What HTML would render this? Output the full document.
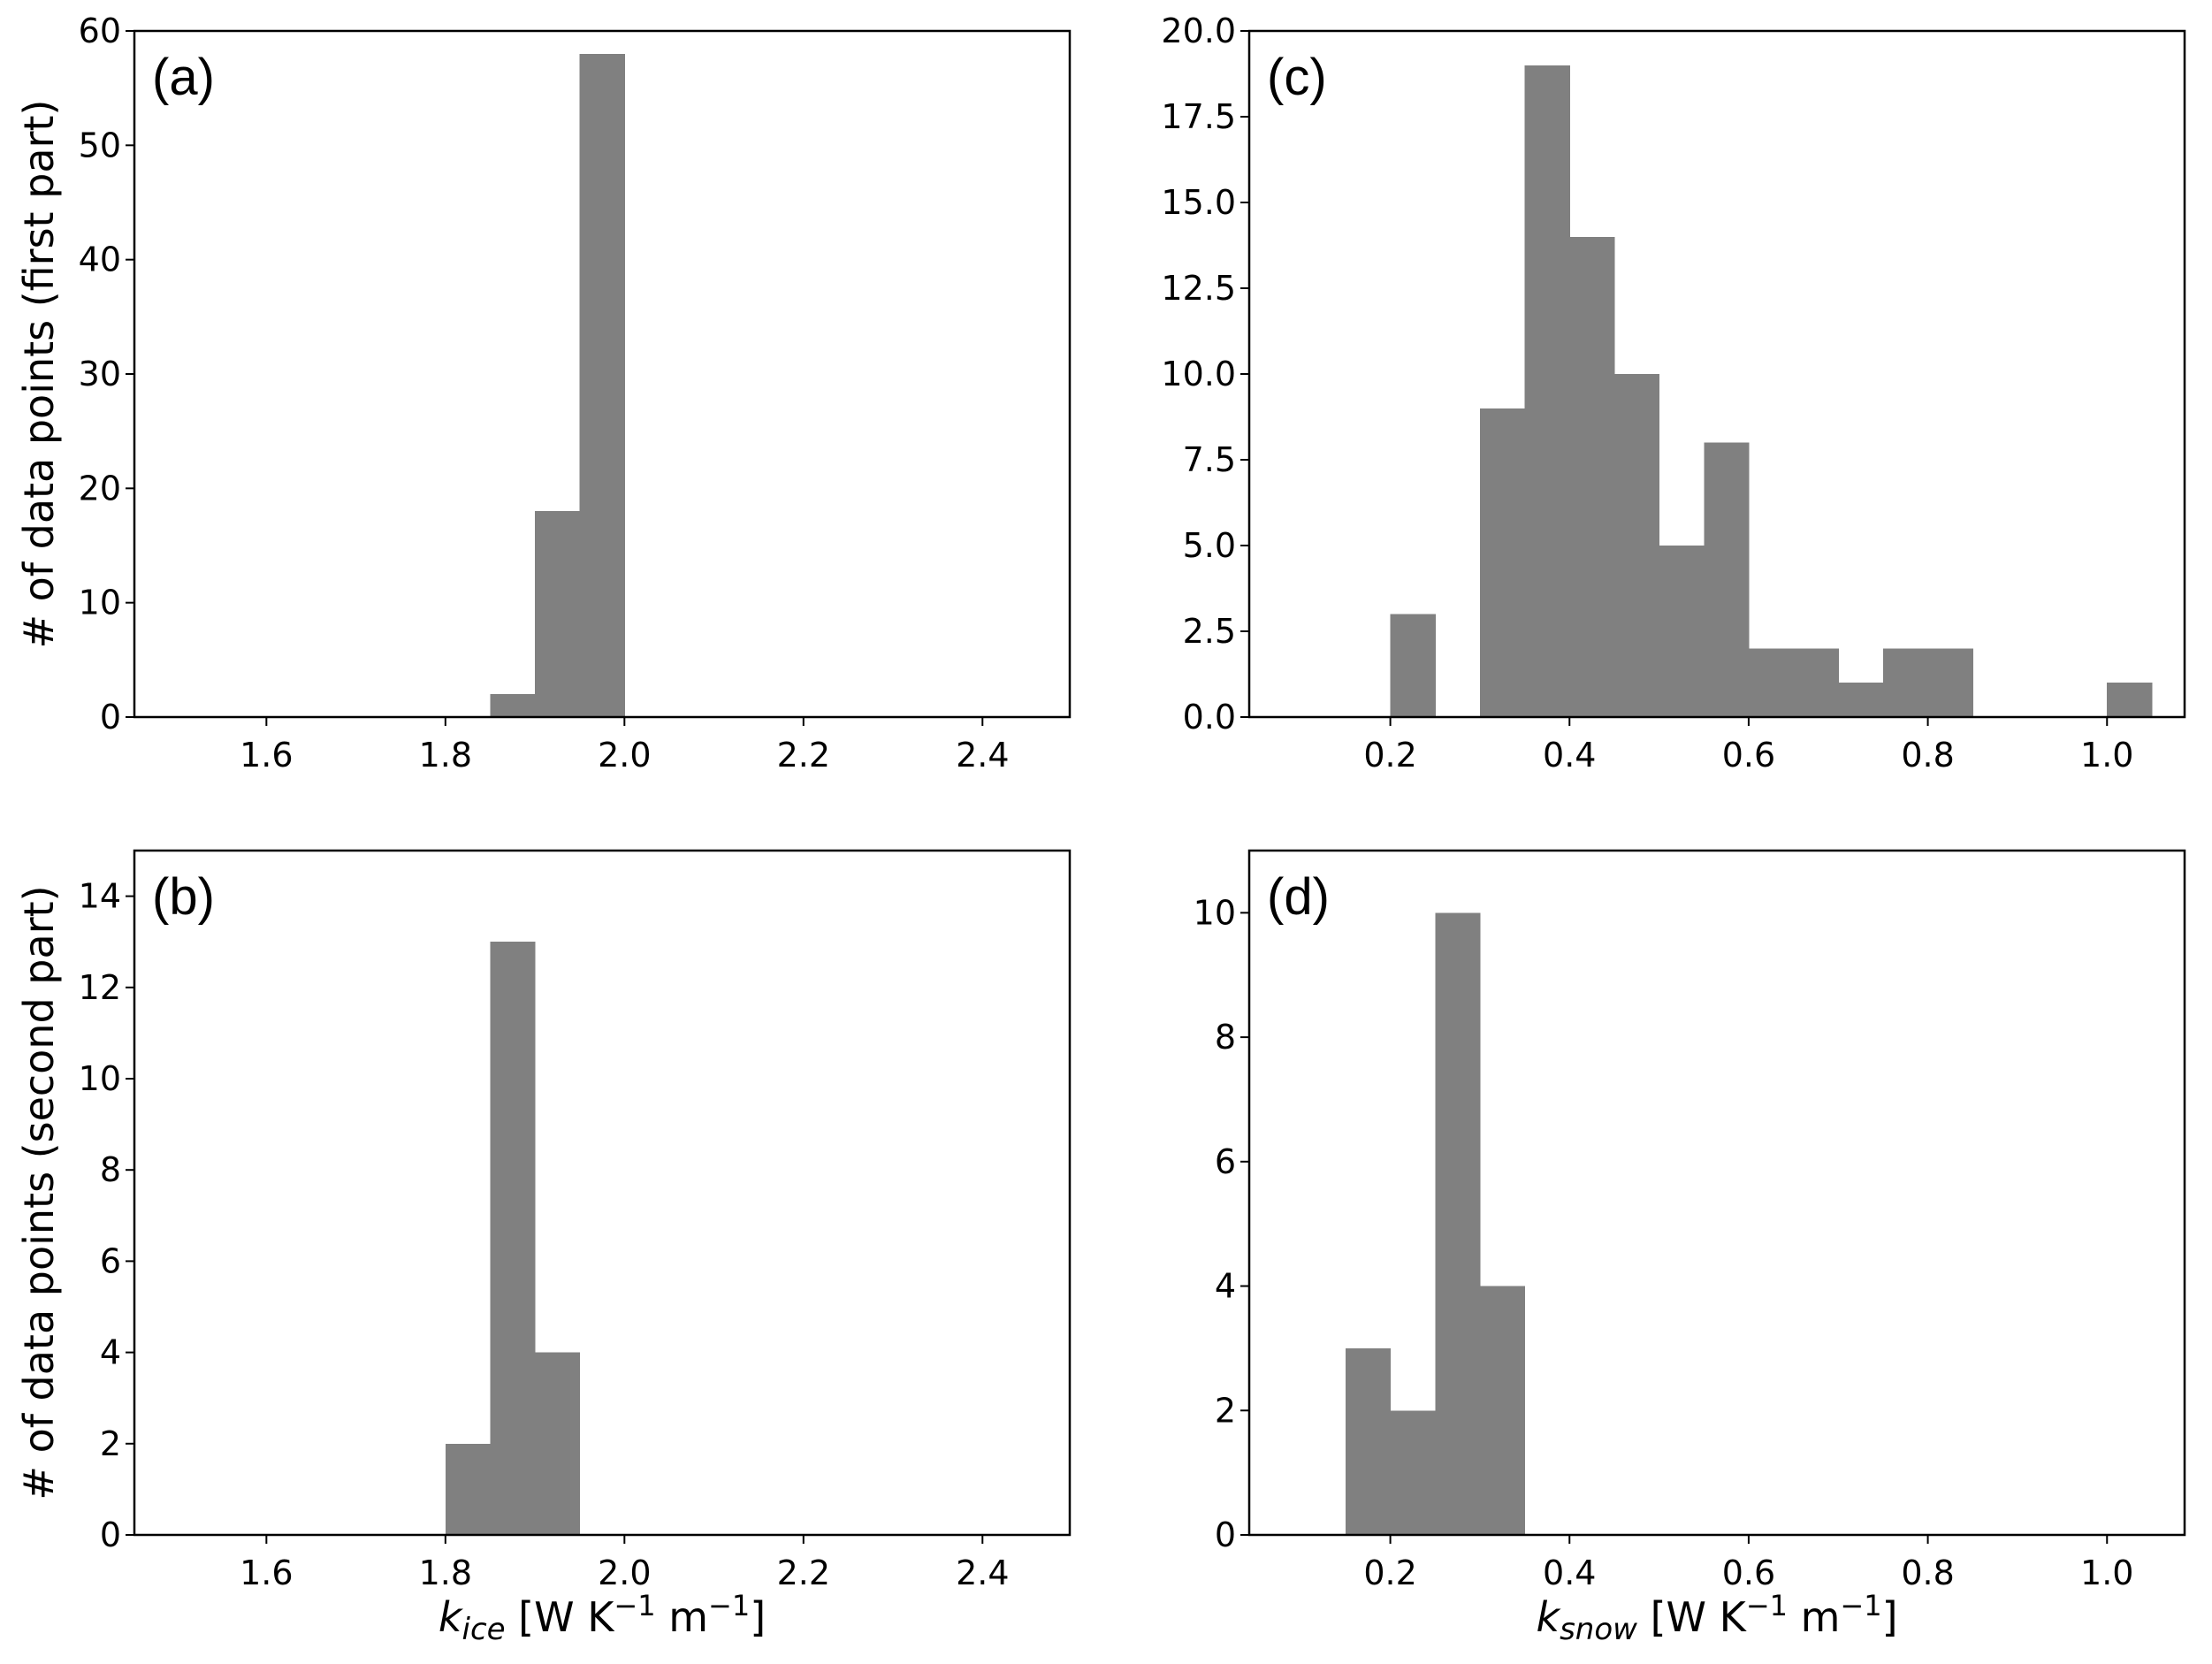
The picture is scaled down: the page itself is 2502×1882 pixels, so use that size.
<!DOCTYPE html>
<html><head><meta charset="utf-8"><style>
html,body{margin:0;padding:0;background:#fff}
svg{display:block;font-family:"DejaVu Sans","Liberation Sans",sans-serif}
</style></head><body>
<svg id="fig" width="2502" height="1882" viewBox="0 0 2502 1882" xmlns="http://www.w3.org/2000/svg"></svg>
<script>
// Panel (a)
const aBinStarts = [1.85, 1.90, 1.95];
const aCounts = [2, 18, 58];
const aYTicks = [0, 10, 20, 30, 40, 50, 60];
// Panel (b)
const bBinStarts = [1.80, 1.85, 1.90];
const bCounts = [2, 13, 4];
const bYTicks = [0, 2, 4, 6, 8, 10, 12, 14];
// Panel (c)
const cBinStarts = [0.20, 0.30, 0.35, 0.40, 0.45, 0.50, 0.55, 0.60, 0.65, 0.70, 0.75, 0.80, 1.00];
const cCounts = [3, 9, 19, 14, 10, 5, 8, 2, 2, 1, 2, 2, 1];
const cYTicks = ["0.0", "2.5", "5.0", "7.5", "10.0", "12.5", "15.0", "17.5", "20.0"];
// Panel (d)
const dBinStarts = [0.15, 0.20, 0.25, 0.30];
const dCounts = [3, 2, 10, 4];
const dYTicks = [0, 2, 4, 6, 8, 10];
// x ticks
const iceXTicks = ["1.6", "1.8", "2.0", "2.2", "2.4"];
const snowXTicks = ["0.2", "0.4", "0.6", "0.8", "1.0"];
const binWidth = 0.05;

const NS = "http://www.w3.org/2000/svg";
const svg = document.getElementById("fig");
function mk(tag, attrs, parent) {
  const e = document.createElementNS(NS, tag);
  for (const k in attrs) e.setAttribute(k, attrs[k]);
  (parent || svg).appendChild(e);
  return e;
}

function panel(cfg) {
  const g = mk("g", {});
  
  
  const X = v => cfg.x0 + (v - cfg.xmin) / (cfg.xmax - cfg.xmin) * (cfg.x1 - cfg.x0);
  const Y = v => cfg.y1 - (v - 0) / cfg.ymax * (cfg.y1 - cfg.y0);
  cfg.starts.forEach((s, i) => {
    const r = mk("rect", {x: X(s), y: Y(cfg.counts[i]), width: X(s + binWidth) - X(s) + 0.5, height: Y(0) - Y(cfg.counts[i]), fill: "#808080", "shape-rendering": "crispEdges"}, g);
    
    
  });
  const fr = mk("rect", {x: cfg.x0, y: cfg.y0, width: cfg.x1 - cfg.x0, height: cfg.y1 - cfg.y0, fill: "none", stroke: "#000", "stroke-width": 2.5}, g);
  
  
  cfg.yticks.forEach(t => {
    const y = Y(parseFloat(t));
    mk("line", {x1: cfg.x0 - 10, x2: cfg.x0, y1: y, y2: y, stroke: "#000", "stroke-width": 2}, g);
    const tx = mk("text", {x: cfg.x0 - 15, y: y + 13, "text-anchor": "end", "font-size": 38}, g);
    tx.textContent = t;
    
    
  });
  cfg.xticks.forEach(t => {
    const x = X(parseFloat(t));
    mk("line", {x1: x, x2: x, y1: cfg.y1, y2: cfg.y1 + 10, stroke: "#000", "stroke-width": 2}, g);
    const tx = mk("text", {x: x, y: cfg.y1 + 56, "text-anchor": "middle", "font-size": 38}, g);
    tx.textContent = t;
    
    
  });
  const lb = mk("text", {x: cfg.x0 + 20, y: cfg.y0 + 72, "font-size": 58, "font-family": "Liberation Sans, sans-serif"}, g);
  lb.textContent = "(" + cfg.id + ")";
  
  
}

panel({id: "a", x0: 152, x1: 1210, y0: 35, y1: 811, xmin: 1.4525, xmax: 2.4975, ymax: 60, starts: aBinStarts, counts: aCounts, yticks: aYTicks.map(String), xticks: iceXTicks});
panel({id: "b", x0: 152, x1: 1210, y0: 962, y1: 1736, xmin: 1.4525, xmax: 2.4975, ymax: 15, starts: bBinStarts, counts: bCounts, yticks: bYTicks.map(String), xticks: iceXTicks});
panel({id: "c", x0: 1413, x1: 2471, y0: 35, y1: 811, xmin: 0.0425, xmax: 1.0866, ymax: 20, starts: cBinStarts, counts: cCounts, yticks: cYTicks, xticks: snowXTicks});
panel({id: "d", x0: 1413, x1: 2471, y0: 962, y1: 1736, xmin: 0.0425, xmax: 1.0866, ymax: 11, starts: dBinStarts, counts: dCounts, yticks: dYTicks.map(String), xticks: snowXTicks});
</script>
<script>
(function(){
  const NS = "http://www.w3.org/2000/svg";
  const svg = document.getElementById("fig");
  function t(x, y, txt, name, rot, html) {
    const e = document.createElementNS(NS, "text");
    e.setAttribute("x", x); e.setAttribute("y", y);
    e.setAttribute("font-size", 46); e.setAttribute("text-anchor", "middle");
    if (rot) e.setAttribute("transform", "rotate(-90 " + x + " " + y + ")");
    if (html) e.innerHTML = html; else e.textContent = txt;
    
    
    svg.appendChild(e);
  }
  t(60, 423, "# of data points (first part)", "y-axis-title-first", true);
  t(60, 1349, "# of data points (second part)", "y-axis-title-second", true);
  t(681, 1845, "", "x-axis-title-ice", false, '<tspan font-style="italic">k</tspan><tspan font-style="italic" font-size="34" dy="9">ice</tspan><tspan dy="-9"> [W K</tspan><tspan font-size="32" dy="-18">−1</tspan><tspan dy="18"> m</tspan><tspan font-size="32" dy="-18">−1</tspan><tspan dy="18">]</tspan>');
  t(1942, 1845, "", "x-axis-title-snow", false, '<tspan font-style="italic">k</tspan><tspan font-style="italic" font-size="34" dy="9">snow</tspan><tspan dy="-9"> [W K</tspan><tspan font-size="32" dy="-18">−1</tspan><tspan dy="18"> m</tspan><tspan font-size="32" dy="-18">−1</tspan><tspan dy="18">]</tspan>');
})();
</script>
</body></html>
